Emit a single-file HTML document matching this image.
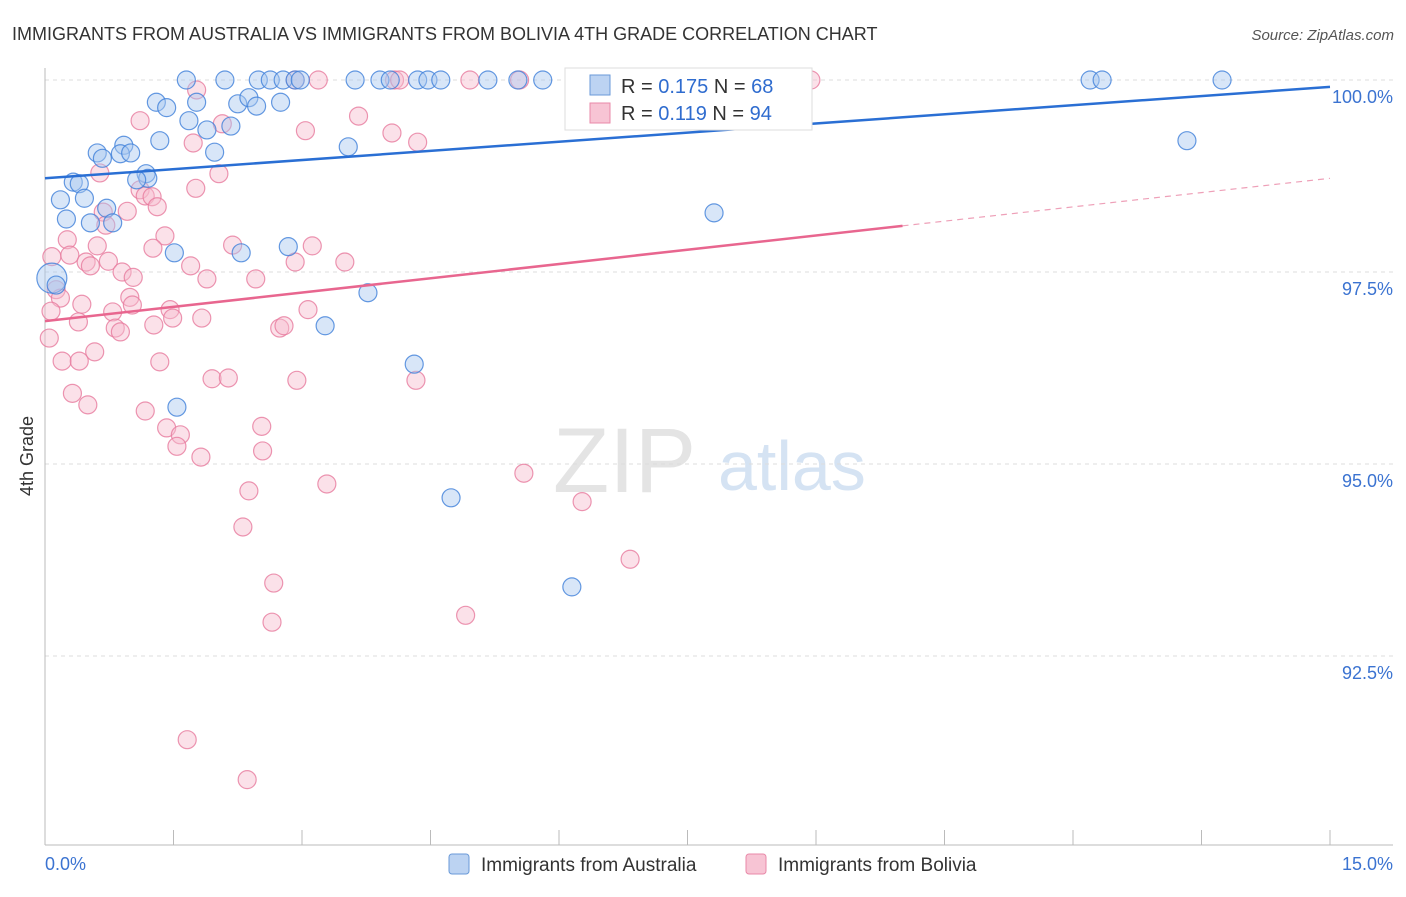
<!DOCTYPE html>
<html><head><meta charset="utf-8"><style>
body{margin:0;background:#fff;font-family:"Liberation Sans",sans-serif;}
svg text{font-family:"Liberation Sans",sans-serif;}
</style></head><body>
<svg id="chart" width="1406" height="892" xmlns="http://www.w3.org/2000/svg">
<text x="12" y="40" font-size="18" fill="#333">IMMIGRANTS FROM AUSTRALIA VS IMMIGRANTS FROM BOLIVIA 4TH GRADE CORRELATION CHART</text>
<text x="1394" y="40" font-size="15" fill="#555" text-anchor="end" font-style="italic">Source: ZipAtlas.com</text>
<text transform="translate(33,456) rotate(-90)" font-size="18" fill="#333" text-anchor="middle">4th Grade</text>
<g>
<text x="553" y="492" font-size="92" fill="#e4e4e4" font-family="Liberation Serif, serif">ZIP</text>
<text x="718" y="490" font-size="70" fill="#d5e3f3">atlas</text>
</g>
<g id="grid"></g><g id="axes"></g><g id="pts"></g><g id="trends"></g>
<g>
<rect x="565" y="68" width="247" height="62" fill="#fff" stroke="#ddd"/>
<rect x="590" y="75" width="20" height="20" fill="#bcd3f2" stroke="#6a9ad8"/>
<text x="621" y="93" font-size="20" fill="#333">R = <tspan fill="#2f6ccf">0.175</tspan>   N = <tspan fill="#2f6ccf">68</tspan></text>
<rect x="590" y="103" width="20" height="20" fill="#f7c4d4" stroke="#e889a8"/>
<text x="621" y="120" font-size="20" fill="#333">R =  <tspan fill="#2f6ccf">0.119</tspan>   N = <tspan fill="#2f6ccf">94</tspan></text>
</g>
<g>
<rect x="449" y="854" width="20" height="20" rx="3" fill="#bcd3f2" stroke="#6a9ad8"/>
<text x="481" y="871" font-size="19" fill="#333">Immigrants from Australia</text>
<rect x="746" y="854" width="20" height="20" rx="3" fill="#f7c4d4" stroke="#e889a8"/>
<text x="778" y="871" font-size="19" fill="#333">Immigrants from Bolivia</text>
</g>
</svg>
<script>
const blueX=[1.65,2.10,2.49,2.63,2.78,2.92,2.98,3.62,3.91,4.03,4.35,4.47,4.62,5.17,5.52,5.81,6.24,12.20,12.34,13.74,1.30,1.42,1.77,1.68,1.89,2.17,2.25,2.38,2.47,2.75,1.34,1.98,0.92,0.61,0.88,1.00,0.67,1.18,1.20,1.07,0.33,0.40,0.18,0.46,0.25,0.72,0.79,0.53,3.54,13.33,7.81,1.51,2.29,2.84,3.77,3.27,4.31,1.54,4.74,6.15,6.85,0.08,0.13];
const blueY=[100,100,100,100,100,100,100,100,100,100,100,100,100,100,100,100,100,100,100,100,99.71,99.64,99.71,99.47,99.35,99.40,99.69,99.77,99.66,99.71,99.21,99.06,99.15,99.05,99.04,99.05,98.98,98.78,98.72,98.70,98.67,98.65,98.44,98.46,98.19,98.33,98.14,98.14,99.13,99.21,98.27,97.75,97.75,97.83,97.23,96.80,96.30,95.74,94.56,93.40,99.49,97.42,97.33];
const pinkX=[1.77,2.92,3.19,4.08,4.14,4.96,5.54,8.94,1.11,3.66,3.04,4.05,4.35,1.73,2.07,0.64,2.03,1.76,1.11,1.17,1.25,1.31,0.96,0.68,0.71,0.26,1.40,0.61,1.26,2.19,3.12,0.08,0.29,0.48,0.53,0.74,1.70,2.92,3.50,0.90,1.03,1.89,2.46,0.13,0.18,0.43,0.99,1.02,1.46,3.07,0.07,0.39,0.79,0.82,0.88,1.27,1.49,1.83,2.74,2.79,0.05,0.58,0.20,0.40,1.34,1.95,2.14,2.94,4.33,0.32,0.50,1.17,1.42,1.58,1.54,2.53,2.54,1.82,5.59,6.27,3.29,2.38,2.31,2.67,6.83,2.65,4.91,1.66,2.36];
const pinkY=[99.87,100,100,100,100,100,100,100,99.47,99.53,99.34,99.31,99.19,99.18,99.43,98.79,98.78,98.59,98.57,98.49,98.48,98.35,98.29,98.28,98.11,97.92,97.97,97.84,97.81,97.85,97.84,97.70,97.72,97.63,97.58,97.64,97.58,97.63,97.63,97.50,97.43,97.41,97.41,97.27,97.16,97.08,97.17,97.07,97.01,97.01,96.99,96.85,96.98,96.77,96.72,96.81,96.90,96.90,96.77,96.80,96.64,96.46,96.34,96.34,96.33,96.11,96.12,96.09,96.09,95.92,95.77,95.69,95.47,95.38,95.23,95.49,95.17,95.09,94.88,94.51,94.74,94.65,94.18,93.45,93.76,92.94,93.03,91.41,90.89];
const blueTrend=[98.72,99.91];   // value at x=0, x=15
const pinkTrend=[96.86,98.72];
const pinkSolidEnd=10.01;
const yTicks=[100,97.5,95,92.5];
const yTickLabels=["100.0%","97.5%","95.0%","92.5%"];
const xTickCount=10;

const X0=45,X1=1330,Y100=80,PPY=76.8;
const sx=v=>X0+(v/15)*(X1-X0);
const sy=v=>Y100+(100-v)*PPY;
const NS="http://www.w3.org/2000/svg";
function mk(tag,parent,attrs){const e=document.createElementNS(NS,tag);for(const k in attrs)e.setAttribute(k,attrs[k]);parent.appendChild(e);return e;}
const grid=document.getElementById('grid'),axes=document.getElementById('axes'),pts=document.getElementById('pts'),tr=document.getElementById('trends');
yTicks.forEach((t,i)=>{
 const l=mk('line',grid,{x1:X0,x2:1393,y1:sy(t),y2:sy(t),stroke:'#ddd','stroke-dasharray':'4,4'});
 
 
 const tx=mk('text',axes,{x:1393,y:sy(t)+23,'font-size':18,fill:'#3b73d1','text-anchor':'end'});
 tx.textContent=yTickLabels[i];
 
 
});
const ya=mk('line',axes,{x1:X0,x2:X0,y1:68,y2:845,stroke:'#bbb'});


const xa=mk('line',axes,{x1:X0,x2:1393,y1:845,y2:845,stroke:'#bbb'});


for(let i=0;i<=xTickCount;i++){
 const tk=mk('line',axes,{x1:sx(i*1.5),x2:sx(i*1.5),y1:830,y2:845,stroke:'#bbb'});
 
 
}
const xl0=mk('text',axes,{x:45,y:870,'font-size':18,fill:'#3b73d1'});xl0.textContent='0.0%';


const xl1=mk('text',axes,{x:1393,y:870,'font-size':18,fill:'#3b73d1','text-anchor':'end'});xl1.textContent='15.0%';


function drawPts(xs,ys,fill,stroke,name){
 xs.forEach((x,i)=>{
  const big=(name==='australia-point'&&i===xs.length-2);
  const c=mk('circle',pts,{cx:sx(x),cy:sy(ys[i]),r:big?15:9,fill:fill,'fill-opacity':0.45,stroke:stroke,'stroke-width':1.2,'stroke-opacity':0.8});
  
  
 });
}
drawPts(pinkX,pinkY,'#f7bccf','#e77a9e','bolivia-point');
drawPts(blueX,blueY,'#a9c7ef','#3f7fd9','australia-point');
const tv=(t,x)=>t[0]+(t[1]-t[0])*x/15;
const bl=mk('line',tr,{x1:sx(0),y1:sy(tv(blueTrend,0)),x2:sx(15),y2:sy(tv(blueTrend,15)),stroke:'#2a6fd4','stroke-width':2.5});


const pl=mk('line',tr,{x1:sx(0),y1:sy(tv(pinkTrend,0)),x2:sx(pinkSolidEnd),y2:sy(tv(pinkTrend,pinkSolidEnd)),stroke:'#e8668f','stroke-width':2.5});


const pd=mk('line',tr,{x1:sx(pinkSolidEnd),y1:sy(tv(pinkTrend,pinkSolidEnd)),x2:sx(15),y2:sy(tv(pinkTrend,15)),stroke:'#eea0b8','stroke-width':1.2,'stroke-dasharray':'6,5'});


</script>
</body></html>
